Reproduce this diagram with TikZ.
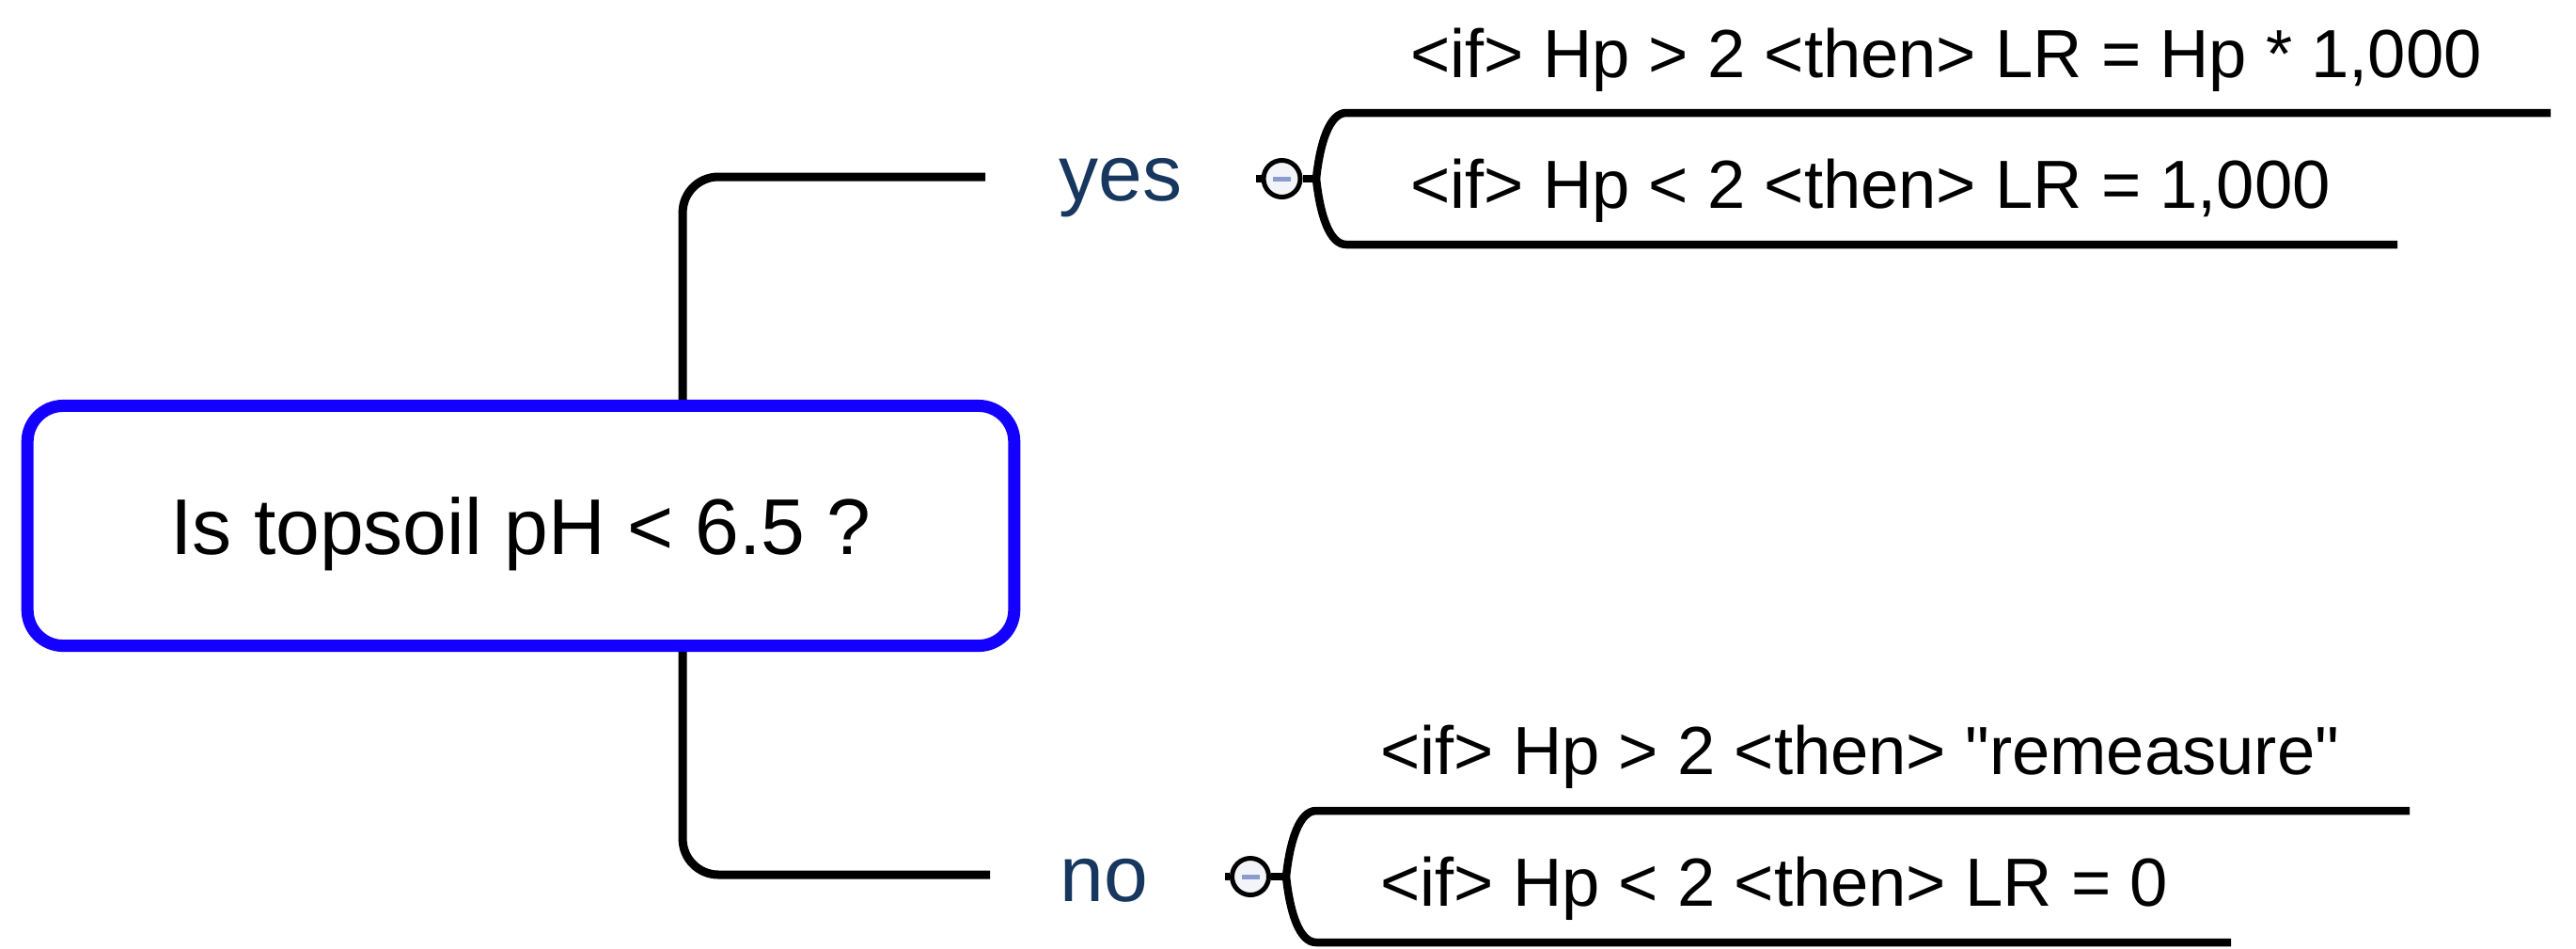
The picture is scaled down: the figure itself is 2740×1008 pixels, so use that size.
\documentclass[tikz,border=0pt]{standalone}
\usepackage{fontspec}
\newfontfamily\lsans{Liberation Sans}
\usetikzlibrary{calc}
\definecolor{rootblue}{RGB}{20,0,255}
\definecolor{labnavy}{RGB}{23,55,94}
\definecolor{minusblue}{RGB}{140,155,205}
\definecolor{circfill}{RGB}{242,244,250}
\begin{document}
\begin{tikzpicture}[x={(0.01cm,0)}, y={(0,-0.01cm)},
 rootbox/.style={draw=rootblue, line width=0.13cm, rounded corners=0.38cm, minimum width=10.49cm, minimum height=2.55cm, inner sep=0pt, font=\lsans\fontsize{23.9pt}{28pt}\selectfont, text height=0.6cm, text depth=0pt, fill=white},
 conn/.style={line width=0.09cm, rounded corners=0.38cm},
 branchlab/.style={anchor=base west, inner sep=0pt, text=labnavy, font=\lsans\fontsize{23.9pt}{28pt}\selectfont},
 leaf/.style={anchor=base west, inner sep=0pt, font=\lsans\fontsize{20.6pt}{24pt}\selectfont},
 toggle/.style={circle, draw, line width=0.05cm, fill=circfill, minimum size=0.39cm, inner sep=0pt},
 bracket/.style={line width=0.085cm},
 minusbar/.style={draw=minusblue, line width=0.05cm}
]
\useasboundingbox (0,0) rectangle (2740,1008);

% root
\node[rootbox] (root) at (554,559) {Is topsoil pH < 6.5 ?};

% branch labels
\node[branchlab] (yes) at (1126,213) {yes};
\node[branchlab] (no) at (1127,958) {no};

\coordinate (yesend) at (1048,188);
\coordinate (noend) at (1053,930);

\draw[conn] ([xshift=1.72cm]root.north) |- (yesend);
\draw[conn] ([xshift=1.72cm]root.south) |- (noend);

% leaves
\node[leaf] (t1) at (1499.5,82) {<if> Hp > 2 <then> LR = Hp * 1,000};
\node[leaf] (t2) at (1499.5,221) {<if> Hp < 2 <then> LR = 1,000};
\node[leaf] (t3) at (1467.5,823) {<if> Hp > 2 <then> "remeasure"};
\node[leaf] (t4) at (1467.5,963) {<if> Hp < 2 <then> LR = 0};

% top toggle and bracket
\coordinate (s1) at (1336,190);
\coordinate (j1) at (1400,190);
\coordinate (e1a) at (2713,120);
\coordinate (e1b) at (2550,260);
\node[toggle] (c1) at (1363.5,190) {};
\draw[bracket] (s1) -- (c1.west);
\draw[bracket] (c1.east) -- (j1);
\draw[minusbar] ([xshift=-0.095cm]c1.center) -- ([xshift=0.095cm]c1.center);
\draw[bracket] (j1) .. controls ($(j1)+(4,-38)$) and ($(j1)+(14,-70)$) .. ($(j1)+(32,-70)$) -- (e1a);
\draw[bracket] (j1) .. controls ($(j1)+(4,38)$) and ($(j1)+(14,70)$) .. ($(j1)+(32,70)$) -- (e1b);

% bottom toggle and bracket
\coordinate (s2) at (1303,932);
\coordinate (j2) at (1368,932);
\coordinate (e2a) at (2563,862);
\coordinate (e2b) at (2373,1002);
\node[toggle] (c2) at (1330,932) {};
\draw[bracket] (s2) -- (c2.west);
\draw[bracket] (c2.east) -- (j2);
\draw[minusbar] ([xshift=-0.095cm]c2.center) -- ([xshift=0.095cm]c2.center);
\draw[bracket] (j2) .. controls ($(j2)+(4,-38)$) and ($(j2)+(14,-70)$) .. ($(j2)+(32,-70)$) -- (e2a);
\draw[bracket] (j2) .. controls ($(j2)+(4,38)$) and ($(j2)+(14,70)$) .. ($(j2)+(32,70)$) -- (e2b);
\end{tikzpicture}
\end{document}
